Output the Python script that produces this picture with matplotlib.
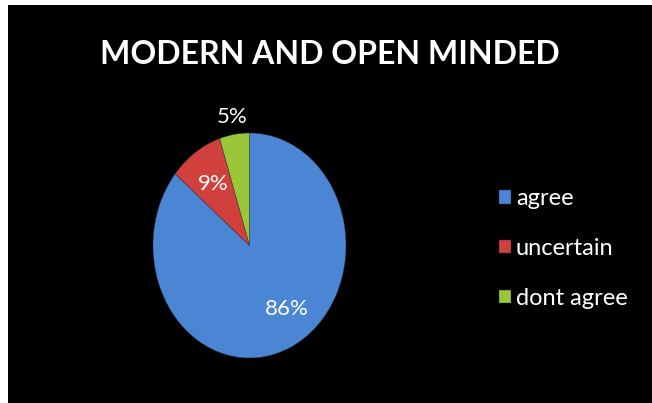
import matplotlib.pyplot as plt
from matplotlib.patches import Rectangle
import numpy as np

plt.rcParams["font.family"] = ["Lato", "DejaVu Sans"]

# survey answers
categories = ["agree", "uncertain", "dont agree"]
shares = [86, 9, 5]
colors = ["#4a86d3", "#d0403c", "#9cc63a"]
# where each percentage sits, as a fraction of the radius
label_dist = [0.68, 0.66, 1.16]
label_turn = [9, 0, 0]

fig = plt.figure(figsize=(6.52, 4.03), dpi=100)
fig.patch.set_facecolor("white")

# dark slide panel
fig.add_artist(Rectangle((8 / 652, 0), 1, 1 - 5 / 403, transform=fig.transFigure,
                         facecolor="black", edgecolor="none", zorder=0))

fig.text(330 / 652, 1 - 54 / 403, "MODERN AND OPEN MINDED", color="white",
         fontsize=23, fontweight="bold", ha="center", va="center")

# pie is drawn as an ellipse: the axes box is taller than it is wide
ax = fig.add_axes([153 / 652, 45 / 403, 193 / 652, 225 / 403])
wedges, _ = ax.pie(shares, colors=colors, startangle=90, counterclock=False,
                   wedgeprops=dict(edgecolor="#2a3442", linewidth=0.3))
ax.set_aspect("auto")
ax.set_xlim(-1, 1)
ax.set_ylim(-1, 1)
ax.axis("off")

for w, val, d, turn in zip(wedges, shares, label_dist, label_turn):
    mid = np.deg2rad((w.theta1 + w.theta2) / 2 + turn)
    ax.text(d * np.cos(mid), d * np.sin(mid), f"{val}%", color="white",
            fontsize=16, ha="center", va="center")

leg = fig.legend(wedges, categories, loc="upper left",
                 bbox_to_anchor=(478 / 652, 1 - 167 / 403), frameon=False,
                 fontsize=17, labelcolor="white", handlelength=0.5,
                 handleheight=0.5, handletextpad=0.2, labelspacing=1.22)

fig.savefig("out.png", dpi=100, facecolor=fig.get_facecolor())
